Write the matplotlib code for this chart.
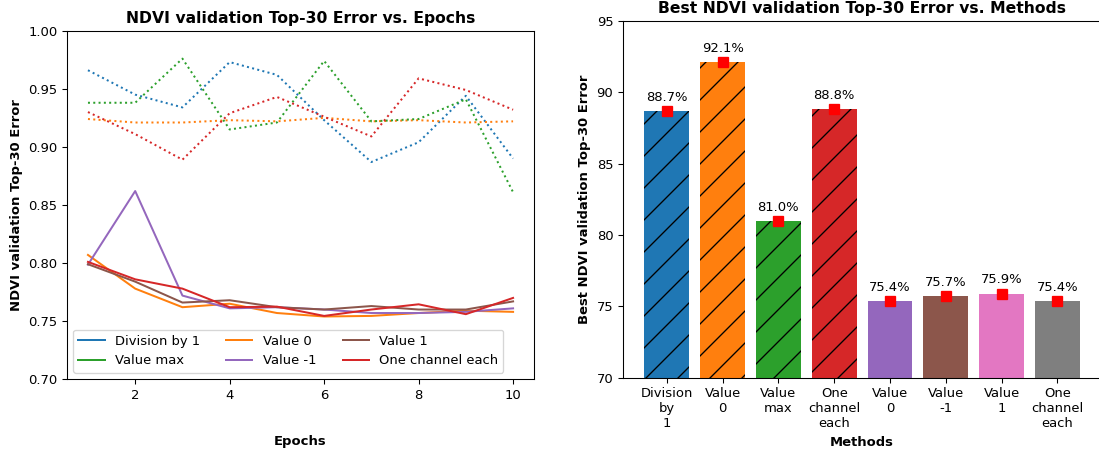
import matplotlib
matplotlib.use("Agg")
import matplotlib.pyplot as plt
from matplotlib.lines import Line2D

plt.rcParams['font.size'] = 9.8
plt.rcParams['hatch.color'] = 'black'

epochs = [1, 2, 3, 4, 5, 6, 7, 8, 9, 10]

# dotted runs (first experiment set)
div1_dot = [0.966, 0.945, 0.934, 0.973, 0.962, 0.923, 0.887, 0.904, 0.944, 0.890]
val0_dot = [0.924, 0.921, 0.921, 0.923, 0.922, 0.925, 0.922, 0.923, 0.921, 0.922]
valmax_dot = [0.938, 0.938, 0.976, 0.915, 0.921, 0.974, 0.922, 0.924, 0.941, 0.861]
onech_dot = [0.930, 0.911, 0.889, 0.929, 0.943, 0.926, 0.909, 0.959, 0.949, 0.932]

# solid runs (second experiment set)
val0_solid = [0.807, 0.778, 0.762, 0.765, 0.757, 0.754, 0.7545, 0.757, 0.759, 0.758]
valm1_solid = [0.7986, 0.862, 0.772, 0.761, 0.762, 0.760, 0.757, 0.757, 0.758, 0.761]
val1_solid = [0.799, 0.784, 0.766, 0.768, 0.762, 0.760, 0.763, 0.760, 0.760, 0.767]
onech_solid = [0.801, 0.786, 0.778, 0.762, 0.7625, 0.7545, 0.760, 0.7645, 0.756, 0.770]

legend_labels = ['Division by 1', 'Value max', 'Value 0', 'Value -1', 'Value 1', 'One channel each']
legend_colors = ['tab:blue', 'tab:green', 'tab:orange', 'tab:purple', 'tab:brown', 'tab:red']

methods = ['Division\nby\n1', 'Value\n0', 'Value\nmax', 'One\nchannel\neach',
           'Value\n0', 'Value\n-1', 'Value\n1', 'One\nchannel\neach']
best_err = [88.7, 92.1, 81.0, 88.8, 75.4, 75.7, 75.9, 75.4]
bar_colors = ['C0', 'C1', 'C2', 'C3', 'C4', 'C5', 'C6', 'C7']
hatches = ['/', '/', '/', '/', '', '', '', '']

DPI = 96
fig = plt.figure(figsize=(1099 / DPI, 452 / DPI), dpi=DPI)
ax1 = fig.add_axes([0.0607, 0.161, 0.4255, 0.771])
ax2 = fig.add_axes([0.5666, 0.164, 0.4357, 0.790])

# left: error curves
ax1.plot(epochs, div1_dot, ':', color='tab:blue')
ax1.plot(epochs, val0_dot, ':', color='tab:orange')
ax1.plot(epochs, valmax_dot, ':', color='tab:green')
ax1.plot(epochs, onech_dot, ':', color='tab:red')
ax1.plot(epochs, val0_solid, color='tab:orange')
ax1.plot(epochs, valm1_solid, color='tab:purple')
ax1.plot(epochs, val1_solid, color='tab:brown')
ax1.plot(epochs, onech_solid, color='tab:red')
ax1.set_ylim(0.70, 1.00)
ax1.set_title('NDVI validation Top-30 Error vs. Epochs', fontweight='bold')
ax1.set_xlabel('Epochs', fontweight='bold', labelpad=25)
ax1.set_ylabel('NDVI validation Top-30 Error', fontweight='bold')
handles = [Line2D([], [], color=c) for c in legend_colors]
ax1.legend(handles, legend_labels, loc='lower left', ncol=3)

# right: best errors per method
x = range(len(methods))
bars = ax2.bar(x, best_err, color=bar_colors, linewidth=0)
for b, h in zip(bars, hatches):
    b.set_hatch(h)
ax2.plot(x, best_err, 's', color='red', markersize=7)
for xi, v in zip(x, best_err):
    ax2.text(xi, v + 0.5, f'{v:.1f}%', ha='center', va='bottom')
ax2.set_xticks(list(x))
ax2.set_xticklabels(methods)
ax2.set_ylim(70, 95)
ax2.set_title('Best NDVI validation Top-30 Error vs. Methods', fontweight='bold')
ax2.set_xlabel('Methods', fontweight='bold')
ax2.set_ylabel('Best NDVI validation Top-30 Error', fontweight='bold')

fig.savefig('out.png', dpi=DPI)
